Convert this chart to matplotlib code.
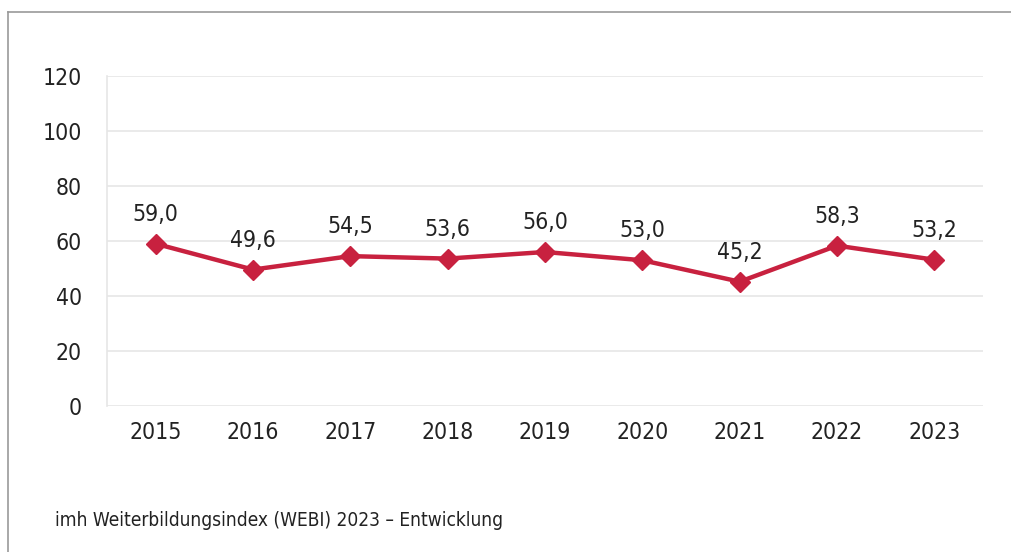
import matplotlib.pyplot as plt
from matplotlib.lines import Line2D

years = ["2015", "2016", "2017", "2018", "2019", "2020", "2021", "2022", "2023"]
webi = [59.0, 49.6, 54.5, 53.6, 56.0, 53.0, 45.2, 58.3, 53.2]
yticks = [0, 20, 40, 60, 80, 100, 120]
caption = "imh Weiterbildungsindex (WEBI) 2023 \u2013 Entwicklung"

red = "#C8213F"
grid = "#E6E6E6"

plt.rcParams["font.family"] = ["DejaVu Sans"]
plt.rcParams["font.stretch"] = "condensed"

fig = plt.figure(figsize=(10.11, 5.52), dpi=100)
ax = fig.add_axes([107 / 1011, 1 - 406 / 552, (983 - 107) / 1011, (406 - 76) / 552])

x = list(range(len(years)))
ax.plot(x, webi, color=red, lw=3.2, marker="D", ms=10, zorder=3)
for xi, v in zip(x, webi):
    ax.annotate(f"{v:.1f}".replace(".", ","), (xi, v), xytext=(0, 13),
                textcoords="offset points", ha="center", va="bottom",
                fontsize=16.5, color="#222222")

ax.set_xlim(-0.5, len(years) - 0.5)
ax.set_ylim(0, 120)
ax.set_yticks(yticks)
ax.set_xticks(x)
ax.set_xticklabels(years)
ax.grid(axis="y", color=grid, lw=1.2)
ax.set_axisbelow(True)
for s in ["top", "right", "bottom"]:
    ax.spines[s].set_visible(False)
ax.spines["left"].set_color(grid)
ax.spines["left"].set_linewidth(1.2)
ax.tick_params(length=0, labelsize=16.5, labelcolor="#222222")
ax.tick_params(axis="y", pad=18)
ax.tick_params(axis="x", pad=11)

# frame lines of the surrounding box (top and left only)
fig.add_artist(Line2D([8 / 1011, 1], [1 - 12 / 552] * 2, color="#999999", lw=1.2,
                      transform=fig.transFigure))
fig.add_artist(Line2D([8 / 1011] * 2, [0, 1 - 12 / 552], color="#999999", lw=1.2,
                      transform=fig.transFigure))

fig.text(55 / 1011, 1 - 520 / 552, caption, fontsize=13.7, color="#222222",
         va="center", ha="left")

fig.savefig("out.png", dpi=100, facecolor="white")
